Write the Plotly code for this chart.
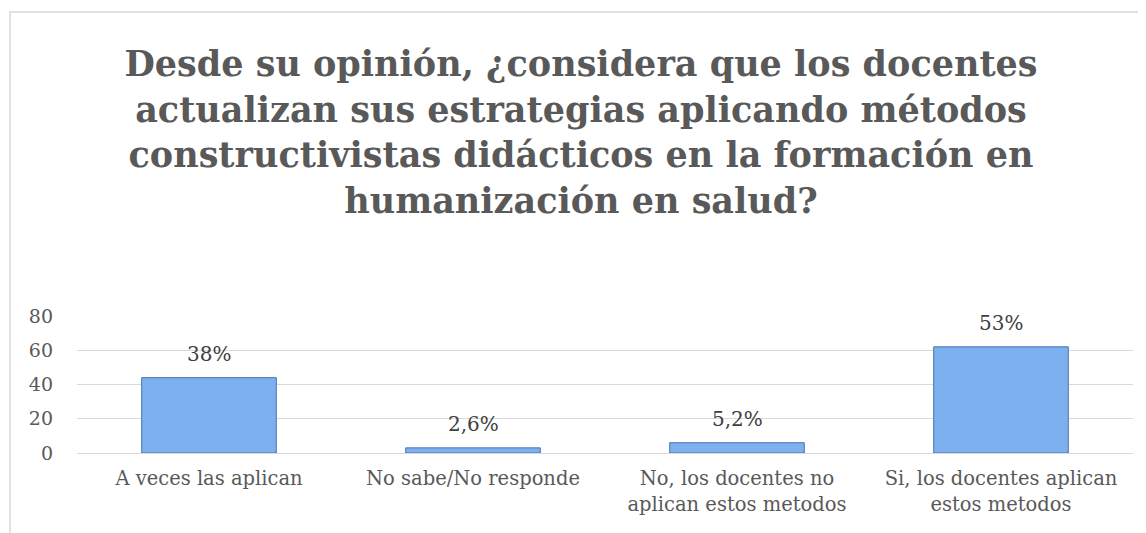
import plotly.graph_objects as go

categories = [
    "A veces las aplican",
    "No sabe/No responde",
    "No, los docentes no<br>aplican estos metodos",
    "Si, los docentes aplican<br>estos metodos",
]
values = [44, 3, 6, 62]
value_labels = ["38%", "2,6%", "5,2%", "53%"]
y_ticks = [0, 20, 40, 60, 80]

title = ("Desde su opinión, ¿considera que los docentes<br>"
         "actualizan sus estrategias aplicando métodos<br>"
         "constructivistas didácticos en la formación en<br>"
         "humanización en salud?")

# page has an 8px body margin, so margins are set relative to that
W, H = 1146, 533
ml, mr, mt, mb = 69, 21, 308, 88
pw, ph = W - ml - mr, H - mt - mb

font = "DejaVu Serif"
grey = "#595959"

fig = go.Figure(go.Bar(
    x=categories,
    y=values,
    width=0.51,
    marker=dict(color="#7db0ef", line=dict(color="#4674b4", width=1)),
    hoverinfo="skip",
))

for c, v, lab in zip(categories, values, value_labels):
    fig.add_annotation(x=c, y=v, text=lab, showarrow=False, yanchor="bottom",
                       yshift=10, font=dict(family=font, size=20, color="#404040"))

# outer chart frame
fig.add_shape(type="rect", xref="paper", yref="paper",
              x0=(2 - ml) / pw, x1=(W + 5 - ml) / pw,
              y0=-(mb + 5) / ph, y1=1 + (mt - 4) / ph,
              line=dict(color="#d9d9d9", width=1.5), layer="below")

fig.update_layout(
    width=W, height=H,
    margin=dict(l=ml, r=mr, t=mt, b=mb),
    paper_bgcolor="white",
    plot_bgcolor="white",
    showlegend=False,
    title=dict(text=title, x=0.5, xanchor="center", y=0.872, yanchor="top",
               font=dict(family=font, size=35, color=grey, weight="bold")),
    font=dict(family=font, size=18, color=grey),
)
fig.update_yaxes(range=[0, 80], tickvals=y_ticks, showgrid=True, gridcolor="#d9d9d9",
                 gridwidth=1, zeroline=False, showline=False, ticklabelstandoff=23,
                 tickfont=dict(size=19))
fig.update_xaxes(showline=True, linecolor="#d9d9d9", linewidth=1, ticks="",
                 ticklabelstandoff=8, tickfont=dict(size=19.5))

fig.write_html("out.html")
